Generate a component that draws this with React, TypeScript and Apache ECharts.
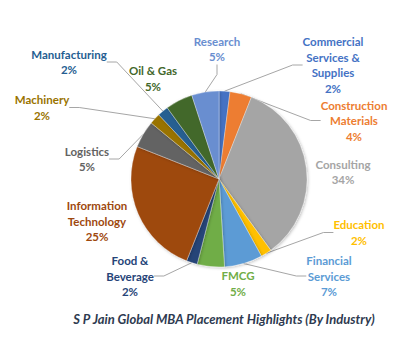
import React, { useEffect, useRef } from "react";
import * as echarts from "echarts";

const categories = [
  "Commercial Services & Supplies",
  "Construction Materials",
  "Consulting",
  "Education",
  "Financial Services",
  "FMCG",
  "Food & Beverage",
  "Information Technology",
  "Logistics",
  "Machinery",
  "Manufacturing",
  "Oil & Gas",
  "Research",
];

const labelTexts = [
  "Commercial\nServices &\nSupplies",
  "Construction\nMaterials",
  "Consulting",
  "Education",
  "Financial\nServices",
  "FMCG",
  "Food &\nBeverage",
  "Information\nTechnology",
  "Logistics",
  "Machinery",
  "Manufacturing",
  "Oil & Gas",
  "Research",
];

const shares = [2, 4, 34, 2, 7, 5, 2, 25, 5, 2, 2, 5, 5];

const colors = [
  "#4472C4",
  "#ED7D31",
  "#A5A5A5",
  "#FFC000",
  "#5B9BD5",
  "#70AD47",
  "#264478",
  "#9E480E",
  "#636363",
  "#997300",
  "#255E91",
  "#43682B",
  "#698ED0",
];

const showLine = [true, true, false, true, true, false, true, false, true, true, true, false, true];

// label block centres (layout only)
const labelPos: [number, number][] = [
  [333, 65],
  [354, 120.5],
  [343, 172],
  [359, 232.5],
  [329, 276],
  [238, 283.5],
  [130, 276],
  [97, 221],
  [87, 159],
  [42, 107.5],
  [69, 62],
  [153, 78.5],
  [217, 49],
];

const title = "S P Jain Global MBA Placement Highlights (By Industry)";

export default function App() {
  const ref = useRef<HTMLDivElement>(null);
  useEffect(() => {
    if (!ref.current) return;
    const chart = echarts.init(ref.current, undefined, { renderer: "svg" });
    chart.setOption({
      animation: false,
      backgroundColor: "#ffffff",
      title: {
        text: title,
        left: 219,
        top: 307,
        textAlign: "center",
        textStyle: {
          fontFamily: "Lato",
          fontStyle: "italic",
          fontWeight: "bold",
          fontSize: 13,
          color: "#2E3A50",
        },
      },
      series: [
        {
          type: "pie",
          center: [219, 179],
          radius: 88,
          startAngle: 90,
          clockwise: true,
          avoidLabelOverlap: false,
          itemStyle: {
            borderColor: "rgba(255,255,255,0.6)",
            borderWidth: 0.5,
            shadowBlur: 3,
            shadowColor: "rgba(0,0,0,0.25)",
            shadowOffsetX: 1,
            shadowOffsetY: 1,
          },
          label: {
            show: true,
            position: "outside",
            fontFamily: "Lato",
            fontWeight: "bold",
            fontSize: 11.5,
            lineHeight: 15.5,
            align: "center",
            formatter: (p: any) => `${labelTexts[p.dataIndex]}\n${p.value}%`,
          },
          labelLine: {
            show: true,
            length: 10,
            length2: 10,
            lineStyle: { color: "#A6A6A6", width: 1 },
          },
          labelLayout: (params: any) => {
            const [x, y] = labelPos[params.dataIndex];
            return { x, y, align: "center", verticalAlign: "middle" };
          },
          data: categories.map((name, i) => ({
            name,
            value: shares[i],
            itemStyle: { color: colors[i] },
            label: { color: colors[i] },
            labelLine: { show: showLine[i] },
          })),
        },
      ],
    });
    return () => chart.dispose();
  }, []);
  return (
    <div
      ref={ref}
      style={{ position: "fixed", left: 0, top: 0, width: 400, height: 339 }}
    />
  );
}
